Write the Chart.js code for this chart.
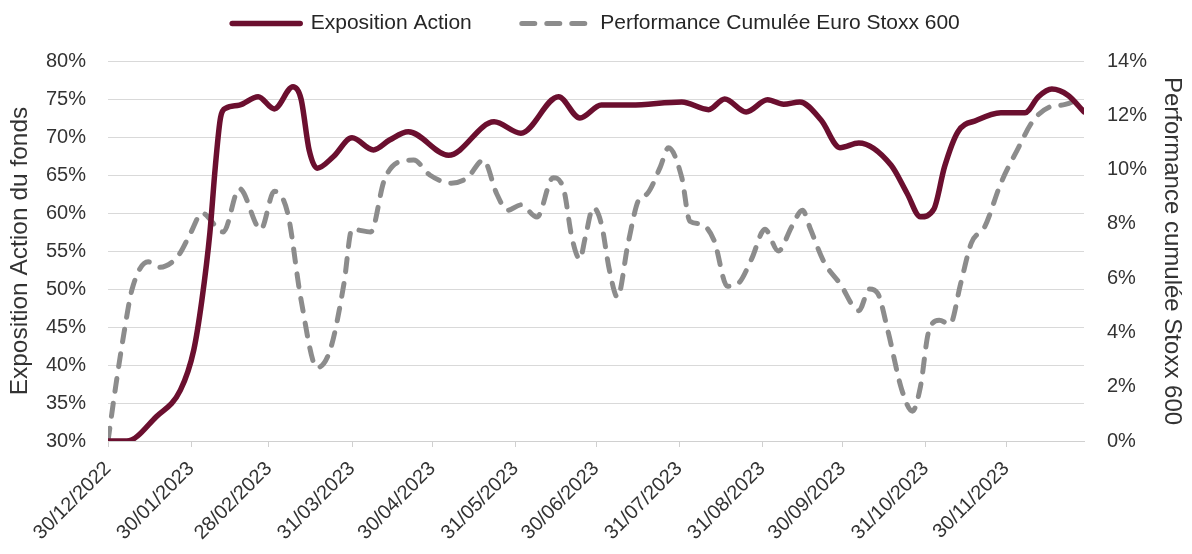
<!DOCTYPE html>
<html><head><meta charset="utf-8">
<script src="https://cdn.jsdelivr.net/npm/chart.js@4"></script>
<style>html,body{margin:0;padding:0;background:#fff}#wrap{width:1192px;height:554px}</style>
</head><body><div id="wrap"><canvas id="c" width="1192" height="554"></canvas></div>
<script>
const seriesNames = ['Exposition Action', 'Performance Cumulée Euro Stoxx 600'];
const axisTitles = ['Exposition Action du fonds', 'Performance cumulée Stoxx 600'];
const tickLabels = ['30/12/2022','30/01/2023','28/02/2023','31/03/2023','30/04/2023','31/05/2023','30/06/2023','31/07/2023','31/08/2023','30/09/2023','31/10/2023','30/11/2023'];
const startDate = '30/12/2022';
const endDate = '29/12/2023';
// days since 30/12/2022
const expoDays = [0,7,18,27,32,35,38,40,42,44,49,56,62,69,72,75,78,84,91,99,105,112,127,144,154,168,176,184,195,214,224,230,238,246,252,258,266,273,280,292,298,303,308,312,317,324,333,342,347,352,358,364];
const expoValues = [30.0,30.0,33.2,36.7,42.0,48.5,57.4,66.0,72.6,73.8,74.2,75.3,73.7,76.6,75.0,68.3,65.9,67.4,69.9,68.3,69.6,70.7,67.6,72.0,70.5,75.3,72.5,74.2,74.2,74.6,73.6,75.0,73.3,74.9,74.3,74.6,72.2,68.6,69.2,66.3,62.6,59.5,60.5,66.1,70.7,72.2,73.2,73.2,75.3,76.3,75.5,73.3];
const perfDays = [0,3,6,9,15,19,26,31,35,43,49,57,62,67,72,78,83,88,91,98,103,109,114,120,128,134,140,145,149,154,160,166,170,173,176,178,181,184,187,190,194,198,201,206,209,214,217,221,226,231,235,240,245,250,255,259,262,267,273,280,284,287,291,296,300,303,306,310,314,318,322,327,333,339,345,351,357,364];
const perfValues = [0,2.1,4.0,5.6,6.6,6.4,6.8,7.7,8.4,7.7,9.3,7.8,9.2,8.4,5.2,2.7,3.4,5.8,7.8,7.7,9.6,10.3,10.35,9.8,9.5,9.7,10.35,9.1,8.5,8.7,8.25,9.7,9.25,7.5,6.7,7.5,8.6,8.0,6.3,5.3,7.3,8.9,9.1,10.1,10.8,9.7,8.1,8.0,7.4,5.7,5.8,6.7,7.8,7.0,7.9,8.5,7.8,6.6,5.8,4.8,5.6,5.45,4.0,1.9,1.1,2.0,4.0,4.45,4.3,5.8,7.3,7.9,9.5,10.7,11.8,12.3,12.4,12.7];

function dayOffset(s) {
  const [d, m, y] = s.split('/').map(Number);
  const [d0, m0, y0] = startDate.split('/').map(Number);
  return Math.round((Date.UTC(y, m - 1, d) - Date.UTC(y0, m0 - 1, d0)) / 86400000);
}
const tickDays = tickLabels.map(dayOffset);

const FONT = "'Liberation Sans', Arial, sans-serif";
const RED = '#6b0f2f';
const GRAY = '#8c8c8c';
const TXT = '#333333';

new Chart(document.getElementById('c'), {
  type: 'line',
  data: {
    datasets: [
      {
        label: seriesNames[0],
        data: expoDays.map((d, i) => ({ x: d, y: expoValues[i] })),
        yAxisID: 'y',
        borderColor: RED,
        backgroundColor: RED,
        borderWidth: 5.5,
        pointRadius: 0,
        cubicInterpolationMode: 'monotone',
        borderCapStyle: 'round',
        borderJoinStyle: 'round'
      },
      {
        label: seriesNames[1],
        data: perfDays.map((d, i) => ({ x: d, y: perfValues[i] })),
        yAxisID: 'y1',
        borderColor: GRAY,
        backgroundColor: GRAY,
        borderWidth: 5,
        borderDash: [13, 12],
        borderCapStyle: 'round',
        pointRadius: 0,
        cubicInterpolationMode: 'monotone'
      }
    ]
  },
  options: {
    responsive: false,
    animation: false,
    devicePixelRatio: 1,
    layout: { padding: { top: -37, left: 0, right: 0, bottom: 0 } },
    plugins: {
      legend: {
        position: 'top',
        weight: 3000,
        labels: {
          usePointStyle: true,
          pointStyle: 'line',
          pointStyleWidth: 68,
          boxHeight: 6,
          font: { family: FONT, size: 21 },
          color: '#262626',
          padding: 50,
          generateLabels: chart => {
            const items = Chart.defaults.plugins.legend.labels.generateLabels(chart);
            return items.map(it => {
              const ds = chart.data.datasets[it.datasetIndex];
              it.lineDash = ds.borderDash || [];
              it.lineWidth = ds.borderWidth;
              it.lineCap = 'round';
              it.strokeStyle = ds.borderColor;
              it.pointStyle = 'line';
              return it;
            });
          }
        }
      },
      title: {
        display: true,
        text: ' ',
        position: 'top',
        weight: 2000,
        font: { family: FONT, size: 1, lineHeight: 1 },
        padding: { top: 0, bottom: 16 }
      },
      tooltip: { enabled: false }
    },
    scales: {
      x: {
        type: 'linear',
        min: 0,
        max: dayOffset(endDate),
        afterBuildTicks: s => { s.ticks = tickDays.map(v => ({ value: v })); },
        afterFit: s => { s.height = 113; },
        ticks: {
          autoSkip: false,
          maxRotation: 45,
          minRotation: 45,
          padding: 10,
          font: { family: FONT, size: 20 },
          color: TXT,
          callback: (v, i) => tickLabels[i]
        },
        grid: { drawOnChartArea: false, tickLength: 6, color: '#d0d0d0' },
        border: { display: true, color: '#d0d0d0' }
      },
      y: {
        position: 'left',
        min: 30,
        max: 80,
        afterFit: s => { s.width = 108; },
        ticks: {
          stepSize: 5,
          padding: 22,
          font: { family: FONT, size: 20 },
          color: TXT,
          callback: v => v + '%'
        },
        grid: { color: '#d9d9d9', drawTicks: false },
        border: { display: false },
        title: {
          display: true,
          text: axisTitles[0],
          font: { family: FONT, size: 24.5 },
          color: TXT,
          padding: { top: 6, bottom: 0 }
        }
      },
      y1: {
        position: 'right',
        min: 0,
        max: 14,
        afterFit: s => { s.width = 108; },
        ticks: {
          stepSize: 2,
          padding: 23,
          font: { family: FONT, size: 20 },
          color: TXT,
          callback: v => v + '%'
        },
        grid: { drawOnChartArea: false, drawTicks: false },
        border: { display: false },
        title: {
          display: true,
          text: axisTitles[1],
          font: { family: FONT, size: 24 },
          color: TXT,
          padding: { top: 6, bottom: 0 }
        }
      }
    }
  }
});
</script></body></html>
